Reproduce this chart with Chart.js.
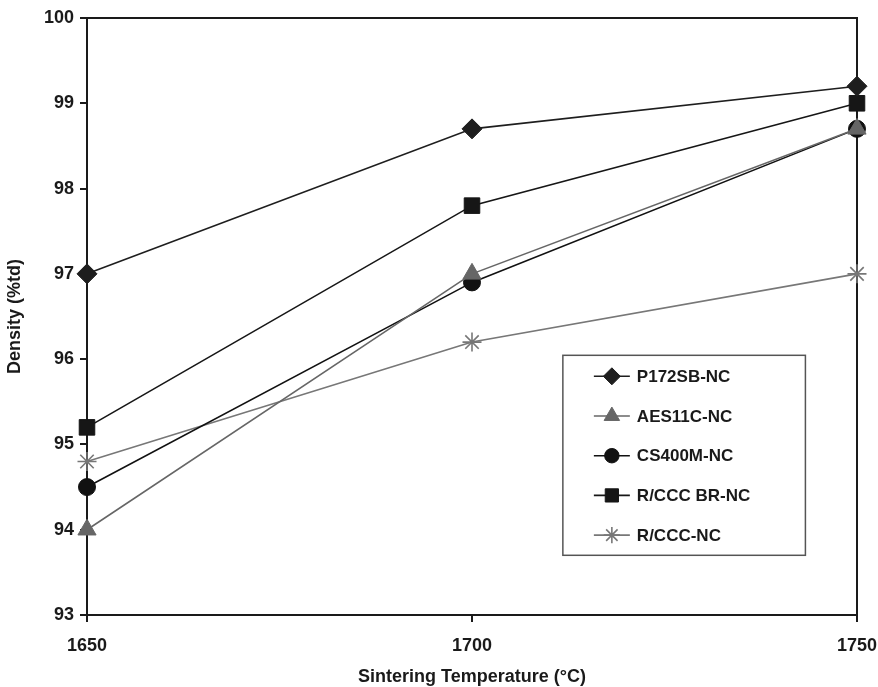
<!DOCTYPE html>
<html lang="en">
<head>
  <meta charset="UTF-8" />
  <title>Density vs Sintering Temperature</title>
  <style>
    html, body { margin: 0; padding: 0; background: #fff; }
    #wrap { width: 878px; height: 687px; }
  </style>
</head>
<body>
<div id="wrap"><canvas id="chart" width="878" height="687"></canvas></div>

<script src="https://cdn.jsdelivr.net/npm/chart.js"></script>
<script>
  const temps = [1650, 1700, 1750];
  const seriesNames = ['P172SB-NC', 'AES11C-NC', 'CS400M-NC', 'R/CCC BR-NC', 'R/CCC-NC'];
  const p172sb = [97.0, 98.7, 99.2];
  const aes11c = [94.0, 97.0, 98.7];
  const cs400m = [94.5, 96.9, 98.7];
  const rcccBr = [95.2, 97.8, 99.0];
  const rccc = [94.8, 96.2, 97.0];

  const font = "'Liberation Sans', Arial, sans-serif";

  function pts(vals) {
    return vals.map((v, i) => ({ x: temps[i], y: v }));
  }

  const styles = [
    { color: '#1e1e1e', point: 'rectRot', r: 10 },
    { color: '#666666', point: 'triangle', r: 10.5 },
    { color: '#111111', point: 'circle', r: 8.5 },
    { color: '#161616', point: 'rect', r: 11 },
    { color: '#777777', point: 'star', r: 9.5 }
  ];
  const allValues = [p172sb, aes11c, cs400m, rcccBr, rccc];

  const datasets = allValues.map((vals, i) => ({
    label: seriesNames[i],
    data: pts(vals),
    borderColor: styles[i].color,
    backgroundColor: styles[i].color,
    pointBorderColor: styles[i].color,
    pointBackgroundColor: styles[i].color,
    pointStyle: styles[i].point,
    pointRadius: styles[i].r,
    pointBorderWidth: styles[i].point === 'star' ? 1.6 : 1,
    borderWidth: 1.6,
    tension: 0,
    clip: false
  }));

  // frame around the plot area plus a legend drawn inside it
  const framePlugin = {
    id: 'frameAndLegend',
    beforeDatasetsDraw(chart) {
      const { ctx, chartArea: a } = chart;
      ctx.save();
      ctx.strokeStyle = '#1a1a1a';
      ctx.lineWidth = 2;
      ctx.strokeRect(a.left, a.top, a.right - a.left, a.bottom - a.top);
      ctx.restore();
    },
    afterDatasetsDraw(chart) {
      const { ctx, chartArea: a } = chart;
      ctx.save();
      const w = a.right - a.left, h = a.bottom - a.top;
      const bx = a.left + w * 0.618, by = a.top + h * 0.565;
      const bw = w * 0.315, bh = h * 0.335;
      ctx.fillStyle = '#fff';
      ctx.fillRect(bx, by, bw, bh);
      ctx.strokeStyle = '#555';
      ctx.lineWidth = 1.5;
      ctx.strokeRect(bx, by, bw, bh);

      ctx.font = 'bold 17px ' + font;
      ctx.textBaseline = 'middle';
      chart.data.datasets.forEach((ds, i) => {
        const y = by + 21 + i * 39.7;
        const lx = bx + 31;
        ctx.strokeStyle = ds.borderColor;
        ctx.fillStyle = ds.borderColor;
        ctx.lineWidth = 1.6;
        ctx.beginPath();
        ctx.moveTo(lx, y);
        ctx.lineTo(lx + 36, y);
        ctx.stroke();
        ctx.lineWidth = ds.pointBorderWidth;
        Chart.helpers.drawPoint(ctx, {
          pointStyle: ds.pointStyle,
          radius: ds.pointRadius * 0.85,
          rotation: 0,
          borderWidth: ds.pointBorderWidth
        }, lx + 18, y);
        ctx.fillStyle = '#1a1a1a';
        ctx.fillText(ds.label, lx + 43, y + 1);
      });
      ctx.restore();
    }
  };

  new Chart(document.getElementById('chart'), {
    type: 'line',
    data: { datasets },
    options: {
      responsive: false,
      animation: false,
      layout: { padding: { top: 18, right: 21, left: 0, bottom: 0 } },
      plugins: {
        legend: { display: false },
        tooltip: { enabled: false }
      },
      scales: {
        x: {
          type: 'linear',
          min: 1650,
          max: 1750,
          afterFit(s) { s.height = 72; s.paddingRight = 0; s.paddingLeft = 0; },
          afterBuildTicks(s) { s.ticks = temps.map(v => ({ value: v })); },
          grid: { display: true, drawOnChartArea: false, drawTicks: true, tickLength: 7, color: '#1a1a1a', lineWidth: 2 },
          border: { display: true, color: '#1a1a1a', width: 2 },
          ticks: {
            color: '#1a1a1a', font: { family: font, size: 18, weight: 'bold' }, padding: 13, maxRotation: 0,
            callback: v => String(v)
          },
          title: { display: true, text: 'Sintering Temperature (°C)', color: '#1a1a1a', font: { family: font, size: 18, weight: 'bold' }, padding: { top: 8, bottom: -1 } }
        },
        y: {
          min: 93,
          max: 100,
          afterFit(s) { s.width = 87; },
          ticks: { stepSize: 1, color: '#1a1a1a', font: { family: font, size: 18, weight: 'bold' }, padding: 6 },
          grid: { display: true, drawOnChartArea: false, drawTicks: true, tickLength: 7, color: '#1a1a1a', lineWidth: 2 },
          border: { display: true, color: '#1a1a1a', width: 2 },
          title: { display: true, text: 'Density (%td)', color: '#1a1a1a', font: { family: font, size: 18, weight: 'bold' }, padding: { bottom: 4 } }
        }
      }
    },
    plugins: [framePlugin]
  });
</script>
</body>
</html>
